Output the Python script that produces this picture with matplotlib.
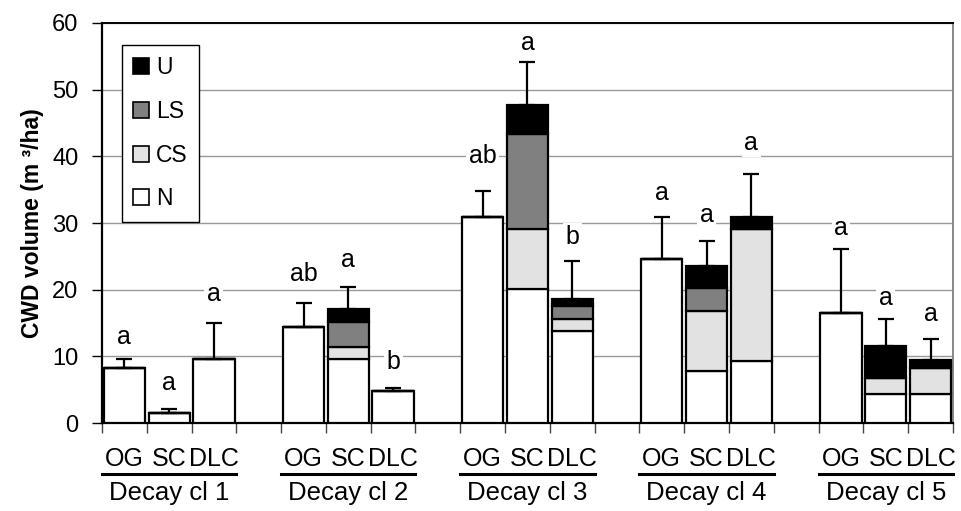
import numpy as np
import matplotlib
matplotlib.use("Agg")
import matplotlib.pyplot as plt
from matplotlib.patches import Patch
from matplotlib.lines import Line2D

plt.rcParams["font.family"] = ["Liberation Sans", "DejaVu Sans"]

# Данные: по 3 столбца (OG, SC, DLC) в каждом классе разложения
groups = ["Decay cl 1", "Decay cl 2", "Decay cl 3", "Decay cl 4", "Decay cl 5"]
stands = ["OG", "SC", "DLC"]
vol_N = [8.2, 1.5, 9.6, 14.4, 9.6, 4.8, 30.9, 20.1, 13.8, 24.6, 7.8, 9.3, 16.5, 4.3, 4.3]
vol_CS = [0, 0, 0, 0, 1.8, 0, 0, 9.0, 1.8, 0, 9.0, 19.8, 0, 2.5, 4.0]
vol_LS = [0, 0, 0, 0, 3.8, 0, 0, 14.3, 1.9, 0, 3.4, 0, 0, 0, 0]
vol_U = [0, 0, 0, 0, 1.9, 0, 0, 4.3, 1.1, 0, 3.4, 1.8, 0, 4.7, 1.1]
err_up = [1.4, 0.6, 5.4, 3.6, 3.3, 0.5, 3.9, 6.5, 5.7, 6.3, 3.7, 6.4, 9.6, 4.1, 3.2]
letters = ["a", "a", "a", "ab", "a", "b", "ab", "a", "b", "a", "a", "a", "a", "a", "a"]
letter_y = [12.9, 6.0, 19.4, 22.4, 24.4, 9.2, 40.1, 57.0, 27.9, 34.5, 31.2, 42.0, 29.2, 18.8, 16.4]

# позиции столбцов: 3 столбца + пустой промежуток
x = np.array([g * 4 + i for g in range(len(groups)) for i in range(3)])

fig = plt.figure(figsize=(9.61, 5.11), dpi=100)
ax = fig.add_axes([0.1061, 0.1722, 0.8855, 0.7828])

layers = [(vol_N, "white", "N"), (vol_CS, "#e2e2e2", "CS"),
          (vol_LS, "#808080", "LS"), (vol_U, "black", "U")]
bottom = np.zeros(len(x))
for vals, col, name in layers:
    vals = np.array(vals)
    ax.bar(x, vals, 0.92, bottom=bottom, color=col, edgecolor="black",
           linewidth=1.6, zorder=3)
    bottom = bottom + vals

ax.errorbar(x, bottom, yerr=[np.zeros(len(x)), err_up], fmt="none",
            ecolor="black", elinewidth=1.6, capsize=6, capthick=1.6, zorder=4)

for xi, t, ly in zip(x, letters, letter_y):
    ax.text(xi, ly, t, ha="center", va="center", fontsize=18, zorder=5,
            bbox=dict(boxstyle="square,pad=0.1", fc="white", ec="none"))

ax.set_xlim(-0.5, 18.5)
ax.set_ylim(0, 60)
ax.set_yticks(range(0, 61, 10))
ax.yaxis.grid(True, color="#999999", linewidth=1)
ax.set_axisbelow(True)
ax.tick_params(axis="y", labelsize=17, length=7, width=1, pad=10)
ax.set_ylabel("CWD volume (m \u00b3/ha)", fontsize=16.5, fontweight="bold", labelpad=6)

# деления по границам ячеек
ax.set_xticks(np.arange(-0.5, 19, 1))
ax.set_xticklabels([])
ax.tick_params(axis="x", length=7, width=1, color="#444444")

for sp in ["left", "bottom"]:
    ax.spines[sp].set_linewidth(1.6)
ax.spines["top"].set_linewidth(1.4)
ax.spines["right"].set_color("#888888")
ax.spines["right"].set_linewidth(1.4)

trans = ax.get_xaxis_transform()
for g, name in enumerate(groups):
    for i, s in enumerate(stands):
        ax.text(g * 4 + i, -0.09, s, transform=trans, ha="center", va="center",
                fontsize=18)
    ax.add_line(Line2D([g * 4 - 0.5, g * 4 + 2.5], [-0.1275, -0.1275], transform=trans,
                       color="black", linewidth=2.2, clip_on=False))
    ax.text(g * 4 + 1, -0.175, name, transform=trans, ha="center", va="center",
            fontsize=18.5)

handles = [Patch(facecolor=c, edgecolor="black", linewidth=1.2, label=n)
           for _, c, n in reversed(layers)]
leg = ax.legend(handles=handles, loc="upper left", bbox_to_anchor=(0.023, 0.945),
                fontsize=16.5, frameon=True, fancybox=False, framealpha=1,
                edgecolor="black", handlelength=0.7, handleheight=0.7,
                handletextpad=0.3, labelspacing=0.9, borderpad=0.5,
                borderaxespad=0)
leg.get_frame().set_linewidth(1)

fig.savefig("out.png", dpi=100)
